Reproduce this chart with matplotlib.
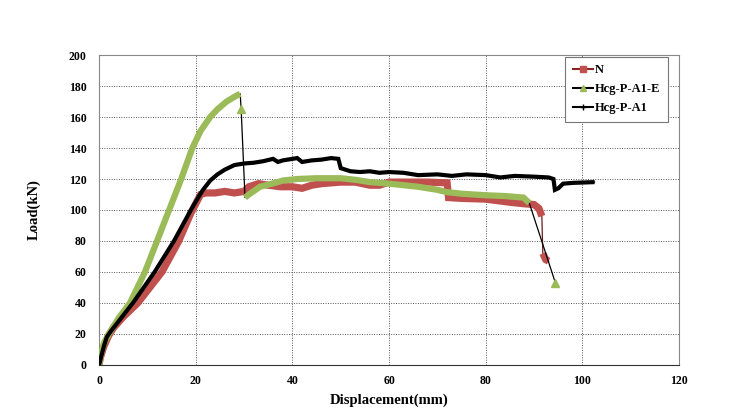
import matplotlib
matplotlib.use("Agg")
import matplotlib.pyplot as plt
from matplotlib.lines import Line2D

plt.rcParams["font.family"] = ["Liberation Serif", "DejaVu Serif"]
plt.rcParams["font.weight"] = "bold"

# N
n_x = [0, 0.3, 1, 2, 3, 5, 8, 10, 13, 16.5, 19, 20, 21, 22, 24, 26, 28, 30, 31, 33,
       35, 37.5, 40, 42, 44, 46, 50, 53, 56, 58, 60, 64, 68, 72, 72.3, 75, 80, 85, 88,
       90, 91, 91.6, 91.8, 92.4, 93]
n_y = [0, 5, 12, 19, 24, 31, 40, 48, 60, 80, 98, 104, 110, 111, 111, 112, 111, 112, 115, 117,
       116, 115, 115, 114, 116, 117, 118, 118, 116, 116, 118, 118, 118, 117.5, 108, 107.5, 107, 105, 104,
       103.5, 101, 96, 72, 68, 67]

# Hcg-P-A1-E
e_x = [0, 0.5, 1, 2, 4, 6.4, 9.5, 12, 14.5, 17, 19.3, 21, 23, 24.5, 26.4, 28, 29.2, 29.4, 30.2,
       31, 33.3, 36.4, 38, 41, 45, 50, 53, 56, 60, 63, 66, 70, 72, 75, 80, 84, 87.8, 89, 94.4]
e_y = [0, 8, 14, 20, 30, 40, 60, 80, 100, 120, 140, 151, 160, 165, 170, 173, 175, 165, 108,
       110, 115, 117.5, 119, 120, 120.5, 120.5, 119.5, 118, 117, 116, 115, 113, 111.5, 110.5, 109.5, 109, 108, 104.5, 53]

# Hcg-P-A1
a_x = [0, 0.5, 1, 1.6, 2.5, 4, 7, 11.5, 15.5, 19, 20.5, 21.5, 23, 24.5, 26, 28, 30, 32, 34, 36, 37,
       38, 40, 41, 42, 44, 46, 48, 49.5, 50, 52, 54, 56, 58, 60, 63, 66, 70, 73, 76, 80,
       83, 86, 90, 93, 94, 94.3, 95, 96, 98, 102.5]
a_y = [0, 6, 12, 18, 22, 28, 40, 60, 80, 100, 108, 113, 119, 123, 126, 129, 130, 130.5, 131.5, 133, 131,
       132, 133, 133.5, 131, 132, 132.5, 133.5, 133, 127, 125, 124.5, 125, 124, 124.5, 124, 122.5, 123, 122, 123, 122.5,
       121, 122, 121.5, 121, 120, 113, 114, 117, 117.5, 118]

x_ticks = [0, 20, 40, 60, 80, 100, 120]
y_ticks = [0, 20, 40, 60, 80, 100, 120, 140, 160, 180, 200]


def runs(x, y, max_drop):
    # split where the curve falls by more than max_drop between two points
    out, start = [], 0
    for i in range(1, len(y)):
        if y[i - 1] - y[i] > max_drop:
            out.append((x[start:i], y[start:i]))
            start = i
    out.append((x[start:], y[start:]))
    return out


fig = plt.figure(figsize=(7.39, 4.2), dpi=100)
ax = fig.add_axes([0.134, 0.131, 0.785, 0.738])

series = [
    (n_x, n_y, "#C0504D", "#6B1A1A", 5.2, "s", 15),
    (e_x, e_y, "#9BBB59", "black", 4.5, "^", 8),
    (a_x, a_y, "black", "black", 3.0, "o", 15),
]
for i, (xs, ys, band, thin, lw, mk, drop) in enumerate(series):
    ax.plot(xs, ys, color=thin, lw=0.9, zorder=2 + i * 2)
    for rx, ry in runs(xs, ys, drop):
        if len(rx) == 1:
            ax.plot(rx, ry, ls="none", marker=mk, ms=6, color=band, zorder=3 + i * 2)
        else:
            ax.plot(rx, ry, color=band, lw=lw, solid_capstyle="butt",
                    solid_joinstyle="miter", zorder=3 + i * 2)

ax.set_xlim(0, 120)
ax.set_ylim(0, 200)
ax.set_xticks(x_ticks)
ax.set_yticks(y_ticks)
ax.tick_params(length=0, labelsize=8.5)
ax.tick_params(axis="x", pad=7)
ax.tick_params(axis="y", pad=9)
for lab in ax.get_xticklabels() + ax.get_yticklabels():
    lab.set_fontweight("bold")
ax.grid(True, color="#555555", ls=(0, (1, 1.5)), lw=0.7)
ax.set_axisbelow(True)
for s in ["top", "right", "left"]:
    ax.spines[s].set_color("#888888")
    ax.spines[s].set_linewidth(0.8)
ax.spines["bottom"].set_color("#333333")

ax.set_xlabel("Displacement(mm)", fontsize=10.5, fontweight="bold", labelpad=5)
ax.set_ylabel("Load(kN)", fontsize=10.5, fontweight="bold", labelpad=20)

handles = [
    Line2D([], [], color="#8B2323", lw=1.5, marker="s", ms=5, mfc="#C0504D", mec="#C0504D"),
    Line2D([], [], color="black", lw=1.5, marker="^", ms=5, mfc="#9BBB59", mec="#9BBB59"),
    Line2D([], [], color="black", lw=1.5, marker="+", ms=4),
]
leg = ax.legend(handles, ["N", "Hcg-P-A1-E", "Hcg-P-A1"], loc="upper right",
                bbox_to_anchor=(0.981, 0.994), borderaxespad=0, fancybox=False, framealpha=1,
                edgecolor="#777777", prop={"weight": "bold", "size": 9},
                handlelength=1.6, handletextpad=0.2, borderpad=0.6, labelspacing=0.55)
leg.get_frame().set_linewidth(0.8)

fig.savefig("out.png", dpi=100)
